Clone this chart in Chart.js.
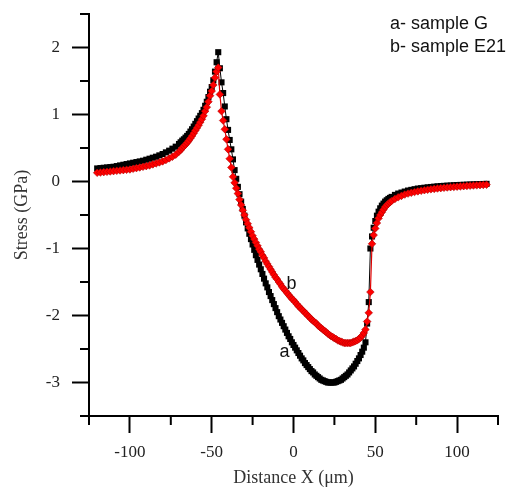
<!DOCTYPE html>
<html>
<head>
<meta charset="utf-8">
<script src="https://cdn.jsdelivr.net/npm/chart.js@4.4.1/dist/chart.umd.min.js"></script>
<style>
  html, body { margin: 0; padding: 0; background: #fff; }
  #wrap { position: relative; width: 509px; height: 490px; }
</style>
</head>
<body>
<div id="wrap"><canvas id="c" width="509" height="490"></canvas></div>
<script>
// Distance X (µm) sample positions
const distanceX = [
  -120,-118,-116,-114,-112,-110,-108,-106,-104,-102,-100,-98,-96,-94,-92,-90,-88,-86,-84,-82,-80,-78,-76,-74,-72,
  -70,-69,-68,-67,-66,-65,-64,-63,-62,-61,-60,-59,-58,-57,-56,
  -55,-54,-53,-52,-51,-50,-49,-48,-47,-46,-45,-44,-43,-42,-41,-40,-39,-38,-37,-36,-35,-34,-33,-32,-31,-30,
  -29,-28,-27,-26,-25,-24,-23,-22,-21,-20,-19,-18,-17,-16,-15,-14,-13,-12,-11,-10,-9,-8,-7,-6,-5,-4,-3,-2,-1,
  0,1,2,3,4,5,6,7,8,9,10,11,12,13,14,15,16,17,18,19,20,21,22,23,24,25,26,27,28,29,30,31,32,33,34,35,36,37,38,39,40,
  41,42,43,44,45,46,47,48,49,50,51,52,53,54,55,56,57,58,59,60,
  62,64,66,68,70,72,74,76,78,80,82,84,86,88,90,92,94,96,98,100,102,104,106,108,110,112,114,116,118
];
// a- sample G (GPa)
const stressA = [
  0.195,0.20,0.205,0.21,0.215,0.22,0.23,0.24,0.25,0.26,0.27,0.28,0.29,0.30,0.31,0.325,0.34,0.355,0.37,0.39,0.41,0.435,0.46,0.49,0.52,
  0.56,0.585,0.61,0.63,0.655,0.68,0.71,0.745,0.78,0.82,0.86,0.90,0.94,0.98,1.02,
  1.07,1.13,1.19,1.26,1.34,1.41,1.51,1.64,1.78,1.93,1.69,1.48,1.32,1.12,0.93,0.77,0.62,0.48,0.33,0.17,0.04,-0.08,-0.19,-0.30,-0.41,-0.51,
  -0.61,-0.70,-0.78,-0.86,-0.94,-1.02,-1.10,-1.17,-1.24,-1.31,-1.38,-1.45,-1.52,-1.58,-1.65,-1.71,-1.77,-1.83,-1.89,-1.95,-2.01,-2.06,-2.11,-2.16,-2.21,-2.26,-2.31,-2.35,-2.40,
  -2.44,-2.48,-2.52,-2.56,-2.60,-2.64,-2.67,-2.71,-2.74,-2.77,-2.80,-2.83,-2.85,-2.88,-2.90,-2.92,-2.94,-2.96,-2.97,-2.98,-2.99,-3.00,-3.00,-3.00,-3.00,-3.00,-2.99,-2.98,-2.97,-2.96,-2.94,-2.92,-2.90,-2.88,-2.85,-2.82,-2.79,-2.76,-2.72,-2.68,-2.64,
  -2.59,-2.54,-2.48,-2.40,-2.12,-1.80,-1.00,-0.82,-0.69,-0.59,-0.51,-0.45,-0.40,-0.36,-0.33,-0.30,-0.28,-0.26,-0.245,-0.23,
  -0.20,-0.18,-0.165,-0.15,-0.135,-0.125,-0.115,-0.105,-0.10,-0.093,-0.087,-0.082,-0.077,-0.072,-0.068,-0.065,-0.062,-0.059,-0.056,-0.053,-0.051,-0.049,-0.047,-0.045,-0.043,-0.041,-0.039,-0.037,-0.035
];
// b- sample E21 (GPa)
const stressB = [
  0.13,0.135,0.14,0.145,0.15,0.155,0.16,0.165,0.17,0.175,0.18,0.19,0.20,0.21,0.22,0.23,0.24,0.255,0.27,0.285,0.30,0.32,0.345,0.37,0.40,
  0.445,0.47,0.50,0.525,0.55,0.58,0.61,0.645,0.68,0.72,0.76,0.80,0.84,0.885,0.93,
  0.98,1.05,1.11,1.19,1.28,1.35,1.44,1.55,1.64,1.70,1.30,1.05,0.91,0.78,0.63,0.48,0.34,0.21,0.07,-0.02,-0.10,-0.18,-0.27,-0.35,-0.43,-0.50,
  -0.57,-0.63,-0.69,-0.75,-0.81,-0.86,-0.91,-0.96,-1.01,-1.05,-1.10,-1.14,-1.19,-1.23,-1.27,-1.31,-1.35,-1.39,-1.43,-1.46,-1.50,-1.53,-1.57,-1.60,-1.63,-1.66,-1.69,-1.72,-1.75,
  -1.77,-1.80,-1.83,-1.86,-1.88,-1.91,-1.93,-1.96,-1.98,-2.01,-2.03,-2.06,-2.08,-2.10,-2.12,-2.15,-2.17,-2.19,-2.21,-2.23,-2.25,-2.27,-2.29,-2.31,-2.32,-2.34,-2.35,-2.37,-2.38,-2.39,-2.40,-2.41,-2.41,-2.41,-2.41,-2.41,-2.40,-2.39,-2.38,-2.37,-2.35,
  -2.33,-2.30,-2.26,-2.21,-2.09,-1.96,-1.65,-0.93,-0.80,-0.70,-0.62,-0.55,-0.50,-0.46,-0.42,-0.38,-0.355,-0.33,-0.31,-0.29,
  -0.26,-0.235,-0.215,-0.195,-0.18,-0.168,-0.157,-0.147,-0.138,-0.13,-0.123,-0.116,-0.11,-0.104,-0.099,-0.094,-0.089,-0.085,-0.081,-0.077,-0.073,-0.07,-0.066,-0.063,-0.06,-0.057,-0.054,-0.051,-0.048
];
const xTickLabels = [-100, -50, 0, 50, 100];
const yTickLabels = [-3, -2, -1, 0, 1, 2];
const legendLines = ['a- sample G', 'b- sample E21'];
const curveTags = [{ text: 'a', x: -5.5, y: -2.55 }, { text: 'b', x: -1.2, y: -1.53 }];

const ptsA = distanceX.map((x, i) => ({ x: x, y: stressA[i] }));
const ptsB = distanceX.map((x, i) => ({ x: x, y: stressB[i] }));

const isMajor = (v, step) => Math.abs(v / step - Math.round(v / step)) < 1e-6;

const extras = {
  id: 'extras',
  afterDraw(chart) {
    const ctx = chart.ctx;
    const xs = chart.scales.x, ys = chart.scales.y;
    ctx.save();
    ctx.strokeStyle = '#000';
    ctx.lineWidth = 2;
    xs.ticks.forEach(t => {
      if (!isMajor(t.value, 50)) {
        const p = xs.getPixelForValue(t.value);
        ctx.beginPath(); ctx.moveTo(p, xs.top); ctx.lineTo(p, xs.top + 9); ctx.stroke();
      }
    });
    ys.ticks.forEach(t => {
      if (!isMajor(t.value, 1)) {
        const p = ys.getPixelForValue(t.value);
        ctx.beginPath(); ctx.moveTo(ys.right, p); ctx.lineTo(ys.right - 9, p); ctx.stroke();
      }
    });
    ctx.fillStyle = '#111';
    ctx.font = '18px "Liberation Sans", Arial, sans-serif';
    ctx.textBaseline = 'middle';
    ctx.textAlign = 'left';
    legendLines.forEach((s, i) => {
      ctx.fillText(s, xs.getPixelForValue(59), ys.getPixelForValue(2.35 - i * 0.34));
    });
    ctx.textAlign = 'center';
    curveTags.forEach(t => {
      ctx.fillText(t.text, xs.getPixelForValue(t.x), ys.getPixelForValue(t.y));
    });
    ctx.restore();
  }
};

const tickFont = { family: '"Liberation Serif", "Times New Roman", serif', size: 17 };
const titleFont = { family: '"Liberation Serif", "Times New Roman", serif', size: 18, lineHeight: 1.2 };

new Chart(document.getElementById('c'), {
  type: 'scatter',
  data: {
    datasets: [
      {
        label: 'b- sample E21',
        data: ptsB,
        showLine: true,
        borderColor: '#e00000',
        borderWidth: 1.2,
        pointStyle: 'rectRot',
        pointRadius: 3.8,
        pointBackgroundColor: '#ff0000',
        pointBorderColor: '#b00000',
        pointBorderWidth: 0.6,
        order: 0
      },
      {
        label: 'a- sample G',
        data: ptsA,
        showLine: true,
        borderColor: '#000',
        borderWidth: 1,
        pointStyle: 'rect',
        pointRadius: 4.3,
        pointBackgroundColor: '#000',
        pointBorderColor: '#000',
        pointBorderWidth: 0,
        order: 1
      }
    ]
  },
  options: {
    responsive: false,
    animation: false,
    devicePixelRatio: 1,
    layout: { padding: { top: 14, right: 11, left: 0, bottom: 0 } },
    plugins: { legend: { display: false }, tooltip: { enabled: false } },
    scales: {
      x: {
        type: 'linear',
        min: -125, max: 125,
        afterFit: (s) => { s.height = 74; s.paddingLeft = 0; s.paddingRight = 0; },
        border: { display: true, color: '#000', width: 2 },
        grid: {
          drawOnChartArea: false, drawTicks: true, tickLength: 17, tickWidth: 2,
          tickColor: (c) => (c.tick && isMajor(c.tick.value, 50)) ? '#000' : 'rgba(0,0,0,0)'
        },
        ticks: {
          stepSize: 25, autoSkip: false, maxRotation: 0, padding: 9,
          color: '#222', font: tickFont,
          callback: (v) => xTickLabels.includes(v) ? String(v) : ''
        },
        title: { display: true, text: 'Distance X (μm)', color: '#333', font: titleFont, padding: { top: 0, bottom: 1 } }
      },
      y: {
        type: 'linear',
        min: -3.5, max: 2.5,
        afterFit: (s) => { s.width = 89; s.paddingTop = 0; s.paddingBottom = 0; },
        border: { display: true, color: '#000', width: 2 },
        grid: {
          drawOnChartArea: false, drawTicks: true, tickLength: 17, tickWidth: 2,
          tickColor: (c) => (c.tick && isMajor(c.tick.value, 1)) ? '#000' : 'rgba(0,0,0,0)'
        },
        ticks: {
          stepSize: 0.5, autoSkip: false, padding: 12,
          color: '#222', font: tickFont,
          callback: (v) => yTickLabels.includes(v) ? String(v) : ''
        },
        title: { display: true, text: 'Stress (GPa)', color: '#333', font: titleFont, padding: { top: 11, bottom: 0 } }
      }
    }
  },
  plugins: [extras]
});
</script>
</body>
</html>
